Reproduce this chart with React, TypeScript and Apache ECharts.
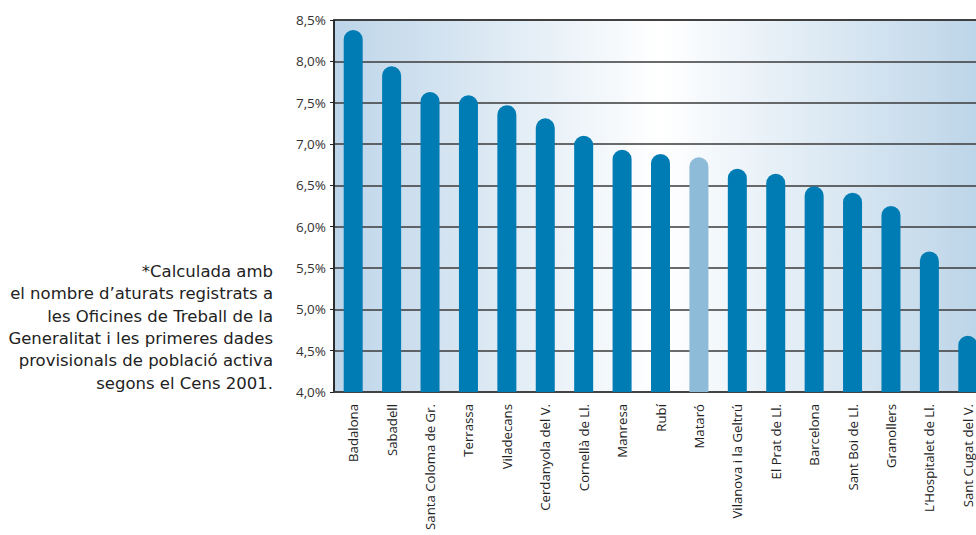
import React, { useEffect, useRef } from "react";
import * as echarts from "echarts";

const categories = [
  "Badalona",
  "Sabadell",
  "Santa Coloma de Gr.",
  "Terrassa",
  "Viladecans",
  "Cerdanyola del V.",
  "Cornellà de Ll.",
  "Manresa",
  "Rubí",
  "Mataró",
  "Vilanova i la Geltrú",
  "El Prat de Ll.",
  "Barcelona",
  "Sant Boi de Ll.",
  "Granollers",
  "L’Hospitalet de Ll.",
  "Sant Cugat del V.",
];

const values = [8.38, 7.94, 7.63, 7.59, 7.47, 7.31, 7.1, 6.93, 6.88, 6.84, 6.7, 6.64, 6.49, 6.41, 6.25, 5.7, 4.68];

const highlighted = "Mataró";

const noteLines = [
  "*Calculada amb",
  "el nombre d’aturats registrats a",
  "les Oficines de Treball de la",
  "Generalitat i les primeres dades",
  "provisionals de població activa",
  "segons el Cens 2001.",
];

const yMin = 4;
const yMax = 8.5;
const yStep = 0.5;

export default function App() {
  const ref = useRef<HTMLDivElement>(null);

  useEffect(() => {
    document.body.style.margin = "0";
    if (!ref.current) return;
    const chart = echarts.init(ref.current, undefined, { renderer: "svg" });
    const font = "'Open Sans', 'Noto Sans', sans-serif";
    chart.setOption({
      animation: false,
      grid: {
        left: 334,
        top: 20,
        bottom: 143,
        width: 653,
        outerBoundsMode: "none",
        containLabel: false,
        show: true,
        borderWidth: 1.5,
        borderColor: "#222",
        backgroundColor: new echarts.graphic.LinearGradient(0, 0, 1, 0, [
          { offset: 0, color: "#bdd5e9" },
          { offset: 0.5, color: "#ffffff" },
          { offset: 1, color: "#bbd4e8" },
        ]),
      },
      xAxis: {
        type: "category",
        data: categories,
        axisTick: { show: false },
        axisLine: { lineStyle: { color: "#444", width: 1.5 } },
        axisLabel: {
          rotate: 90,
          interval: 0,
          margin: 12,
          fontSize: 13.2,
          color: "#222",
          fontFamily: font,
        },
      },
      yAxis: {
        type: "value",
        min: yMin,
        max: yMax,
        interval: yStep,
        axisLine: { show: true, lineStyle: { color: "#222", width: 1.5 } },
        axisTick: { show: true, length: 4, lineStyle: { color: "#222" } },
        splitLine: { lineStyle: { color: "#3a3a3a", width: 1.5 } },
        axisLabel: {
          fontSize: 13.5,
          color: "#333",
          margin: 8,
          fontFamily: font,
          formatter: (v: number) => v.toFixed(1).replace(".", ",") + "%",
        },
      },
      series: [
        {
          type: "bar",
          barWidth: 19,
          data: values.map((v, i) => ({
            value: v,
            itemStyle: {
              color: categories[i] === highlighted ? "#8dbbd8" : "#007cb4",
              borderRadius: [9.5, 9.5, 0, 0],
            },
          })),
        },
      ],
      graphic: [
        {
          type: "text",
          x: 273,
          y: 260,
          style: {
            text: noteLines.join("\n"),
            font: "16.5px 'DejaVu Sans', sans-serif",
            fill: "#222",
            align: "right",
            verticalAlign: "top",
            lineHeight: 22.4,
          },
        },
      ],
    });
    return () => chart.dispose();
  }, []);

  return <div ref={ref} style={{ width: 976, height: 535 }} />;
}
